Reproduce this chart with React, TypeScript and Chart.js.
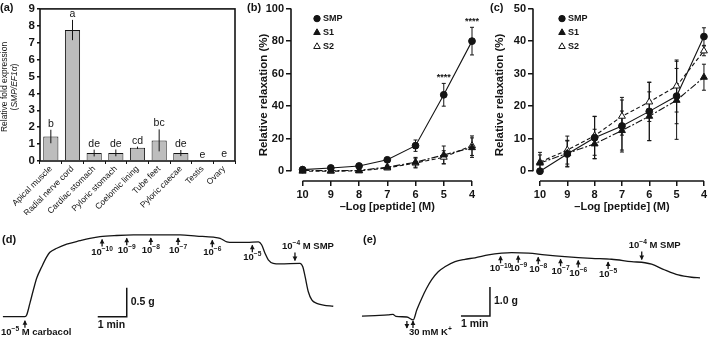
import React, { useEffect, useRef } from 'react';
import { Chart, registerables } from 'chart.js';

Chart.register(...registerables);

const FONT = '"Liberation Sans", Arial, Helvetica, sans-serif';
const INK = '#141414';
Chart.defaults.font.family = FONT;
Chart.defaults.color = INK;

/* ---------------- (a) relative SMP expression ---------------- */
const TISSUES = ['Apical muscle', 'Radial nerve cord', 'Cardiac stomach', 'Pyloric stomach', 'Coelomic lining', 'Tube feet', 'Pyloric caecae', 'Testis', 'Ovary'];
const FOLD_EXPRESSION = [1.45, 7.75, 0.47, 0.48, 0.78, 1.22, 0.47, 0.02, 0.03];
const FOLD_SEM = [0.4, 0.6, 0.2, 0.2, 0.07, 0.65, 0.18, 0, 0];
const FOLD_LETTERS = ['b', 'a', 'de', 'de', 'cd', 'bc', 'de', 'e', 'e'];
const FOLD_TICKS = [0, 1, 2, 3, 4, 5, 6, 7, 8, 9];

/* ---------------- (b), (c) concentration-response ---------------- */
const NEG_LOG_CONC = [10, 9, 8, 7, 6, 5, 4];
const SERIES_NAMES = ['SMP', 'S1', 'S2'];

const B_SMP = [1, 2, 3.2, 7, 15.7, 47, 80];
const B_SMP_ERR = [0.6, 0.8, 1, 1.5, 3.5, 7, 8.5];
const B_S1 = [0.5, 0.3, 0.5, 2.5, 5.5, 10, 14.5];
const B_S1_ERR = [0.5, 0.4, 0.5, 1.2, 3, 5.5, 6];
const B_S2 = [0, 0, 0.2, 2, 5, 8.6, 15.7];
const B_S2_ERR = [0.4, 0.3, 0.4, 1, 3, 4, 6];
const B_SIG = ['', '', '', '', '', '****', '****'];
const B_TICKS = [0, 20, 40, 60, 80, 100];

const C_SMP = [0, 5.3, 10.3, 13.9, 18.4, 23.1, 41.4];
const C_SMP_ERR = [0.5, 4, 6.5, 8, 9, 8.5, 2.7];
const C_S1 = [2.5, 5.5, 8.4, 12.5, 16.9, 21.8, 28.9];
const C_S1_ERR = [2.5, 4, 4.5, 6, 7.5, 12, 4];
const C_S2 = [2.8, 6.5, 10.9, 16.9, 21.3, 26.2, 37];
const C_S2_ERR = [3, 4.3, 6, 5.8, 6, 8, 1.5];
const C_SIG = ['', '', '', '', '', '', ''];
const C_TICKS = [0, 10, 20, 30, 40, 50];

/* ---------------- (d), (e) tension traces (time in min, tension in g) ---------------- */
const D_TIME = [0.10, 0.86, 0.92, 1.03, 1.15, 1.27, 1.44, 1.61, 1.72, 1.96, 2.30, 2.76, 3.10, 3.45, 4.02, 4.60, 5.17, 6.21, 6.78, 7.36, 7.59, 7.82, 8.04, 8.51, 8.91, 9.02, 9.14, 9.25, 9.42, 9.66, 10.34, 10.44, 10.52, 10.63, 10.75, 10.92, 11.15, 11.49];
const D_TENSION = [0.35, 0.35, 0.38, 0.58, 0.81, 1.02, 1.21, 1.38, 1.46, 1.53, 1.60, 1.66, 1.70, 1.73, 1.75, 1.76, 1.76, 1.76, 1.74, 1.72, 1.70, 1.64, 1.63, 1.63, 1.64, 1.59, 1.44, 1.33, 1.27, 1.26, 1.27, 1.21, 1.04, 0.78, 0.64, 0.58, 0.55, 0.53];
const D_DOSE_TIMES = [3.52, 4.37, 5.20, 6.14, 7.32, 8.70];
const D_DOSE_EXPONENTS = ['−10', '−9', '−8', '−7', '−6', '−5'];
const D_SMP_TIME = 10.17;
const D_STIM_TIMES = [0.86];

const E_TIME = [0.24, 0.69, 1.14, 1.31, 1.41, 1.79, 2.01, 2.13, 2.30, 2.47, 2.64, 2.87, 3.10, 3.45, 3.79, 4.14, 4.60, 5.06, 5.40, 5.98, 6.55, 7.24, 8.16, 8.85, 9.54, 10.00, 10.23, 10.69, 11.15, 11.61, 11.90];
const E_TENSION = [0.72, 0.74, 0.76, 0.78, 0.71, 0.69, 0.59, 0.93, 1.33, 1.68, 1.97, 2.25, 2.42, 2.60, 2.68, 2.73, 2.83, 2.89, 2.91, 2.89, 2.83, 2.77, 2.71, 2.68, 2.60, 2.56, 2.51, 2.31, 2.14, 2.06, 2.04];
const E_DOSE_TIMES = [5.02, 5.63, 6.32, 7.09, 7.70, 8.73];
const E_DOSE_EXPONENTS = ['−10', '−9', '−8', '−7', '−6', '−5'];
const E_SMP_TIME = 9.89;
const E_STIM_TIMES = [1.79, 2.0];

/* ---------------- helpers ---------------- */
type Seg = { t: string; sup?: boolean; italic?: boolean };

function fontStr(size: number, weight = 'bold', italic = false) {
  return `${italic ? 'italic ' : ''}${weight} ${size}px ${FONT}`;
}

function drawSegs(ctx: CanvasRenderingContext2D, segs: Seg[], x: number, y: number, size: number, weight: string, align: 'left' | 'center') {
  const supSize = size * 0.7;
  const widths = segs.map((s) => {
    ctx.font = fontStr(s.sup ? supSize : size, weight, !!s.italic);
    return ctx.measureText(s.t).width;
  });
  const total = widths.reduce((a, b) => a + b, 0);
  let cx = align === 'center' ? x - total / 2 : x;
  ctx.textAlign = 'left';
  ctx.textBaseline = 'middle';
  segs.forEach((s, i) => {
    ctx.font = fontStr(s.sup ? supSize : size, weight, !!s.italic);
    ctx.fillText(s.t, cx, s.sup ? y - size * 0.33 : y);
    cx += widths[i];
  });
}

function drawArrow(ctx: CanvasRenderingContext2D, x: number, yTail: number, yTip: number) {
  ctx.lineWidth = 1.3;
  ctx.beginPath();
  ctx.moveTo(x, yTail);
  ctx.lineTo(x, yTip);
  ctx.stroke();
  const dir = yTip < yTail ? 1 : -1;
  ctx.beginPath();
  ctx.moveTo(x, yTip - dir * 0.5);
  ctx.lineTo(x - 2.4, yTip + dir * 4);
  ctx.lineTo(x + 2.4, yTip + dir * 4);
  ctx.closePath();
  ctx.fill();
}

function drawMarker(ctx: CanvasRenderingContext2D, kind: number, x: number, y: number) {
  ctx.beginPath();
  if (kind === 0) {
    ctx.arc(x, y, 3.2, 0, Math.PI * 2);
  } else {
    const r = 3.8;
    for (let k = 0; k < 3; k++) {
      const a = (k * 2 * Math.PI) / 3;
      const px = x + Math.sin(a) * r;
      const py = y - Math.cos(a) * r;
      if (k === 0) ctx.moveTo(px, py);
      else ctx.lineTo(px, py);
    }
  }
  ctx.closePath();
  ctx.fillStyle = kind === 2 ? '#ffffff' : INK;
  ctx.fill();
  ctx.lineWidth = 1;
  ctx.strokeStyle = INK;
  ctx.stroke();
  ctx.fillStyle = INK;
}

function interp(ts: number[], vs: number[], t: number) {
  for (let i = 0; i < ts.length - 1; i++) {
    if (t >= ts[i] && t <= ts[i + 1]) {
      const f = (t - ts[i]) / (ts[i + 1] - ts[i]);
      return vs[i] + f * (vs[i + 1] - vs[i]);
    }
  }
  return t < ts[0] ? vs[0] : vs[vs.length - 1];
}

const pts = (xs: number[], ys: number[]) => xs.map((x, i) => ({ x, y: ys[i] }));

/* ---------------- (a) config ---------------- */
function panelAConfig(): any {
  const plugin = {
    id: 'panelA',
    afterDatasetsDraw(chart: any) {
      const { ctx, chartArea: ca } = chart;
      const ys = chart.scales.y;
      const meta = chart.getDatasetMeta(0);
      ctx.save();
      ctx.strokeStyle = INK;
      ctx.fillStyle = INK;
      ctx.lineWidth = 1;
      meta.data.forEach((bar: any, i: number) => {
        const v = FOLD_EXPRESSION[i];
        const e = FOLD_SEM[i];
        const top = ys.getPixelForValue(v + e);
        if (e > 0) {
          ctx.beginPath();
          ctx.moveTo(bar.x, top);
          ctx.lineTo(bar.x, ys.getPixelForValue(v - e));
          ctx.stroke();
        }
        ctx.font = fontStr(10.5, 'normal');
        ctx.textAlign = 'center';
        ctx.textBaseline = 'alphabetic';
        ctx.fillText(FOLD_LETTERS[i], bar.x, top - 3);
      });
      ctx.lineWidth = 1.6;
      ctx.strokeRect(ca.left, ca.top, ca.right - ca.left, ca.bottom - ca.top);
      // y title
      ctx.save();
      ctx.translate(5, 87);
      ctx.rotate(-Math.PI / 2);
      drawSegs(ctx, [{ t: 'Relative fold expression' }], 0, 0, 8.5, 'normal', 'center');
      ctx.restore();
      ctx.save();
      ctx.translate(15, 87);
      ctx.rotate(-Math.PI / 2);
      drawSegs(ctx, [{ t: '(' }, { t: 'SMP/EF1α', italic: true }, { t: ')' }], 0, 0, 8.5, 'normal', 'center');
      ctx.restore();
      ctx.font = fontStr(11);
      ctx.textAlign = 'left';
      ctx.textBaseline = 'middle';
      ctx.fillText('(a)', 0, 8);
      ctx.restore();
    },
  };
  return {
    type: 'bar',
    data: {
      labels: TISSUES,
      datasets: [
        {
          data: FOLD_EXPRESSION,
          backgroundColor: '#bdbdbd',
          borderColor: INK,
          borderWidth: 1,
          barPercentage: 0.7,
          categoryPercentage: 1,
        },
      ],
    },
    options: {
      animation: false,
      responsive: false,
      events: [],
      layout: { padding: { top: 5, right: 5, left: 0, bottom: 0 }, autoPadding: false },
      plugins: { legend: { display: false }, tooltip: { enabled: false } },
      scales: {
        x: {
          grid: { display: true, drawOnChartArea: false, tickLength: 3, color: INK, lineWidth: 1 },
          border: { display: false },
          ticks: { autoSkip: false, minRotation: 45, maxRotation: 45, font: { size: 8.5, family: FONT }, color: INK, padding: 0 },
          afterFit: (s: any) => {
            s.height = 54;
          },
        },
        y: {
          min: 0,
          max: 9,
          afterBuildTicks: (s: any) => {
            s.ticks = FOLD_TICKS.map((v) => ({ value: v }));
          },
          grid: { display: true, drawOnChartArea: false, tickLength: 3, color: INK, lineWidth: 1.5 },
          border: { display: false },
          ticks: { font: { size: 11.5, weight: 'bold', family: FONT }, color: INK, padding: 2 },
          afterFit: (s: any) => {
            s.width = 40;
          },
        },
      },
    },
    plugins: [plugin],
  };
}

/* ---------------- (b)/(c) config ---------------- */
type DoseSpec = {
  panel: string;
  panelX: number;
  values: number[][];
  errors: number[][];
  sig: string[];
  ticks: number[];
  yMin: number;
  yMax: number;
  xMax: number;
  axisWidth: number;
  padRight: number;
  yTitleGap: number;
  legendDx: number;
};

function doseConfig(spec: DoseSpec): any {
  const plugin = {
    id: 'dose',
    beforeDatasetsDraw(chart: any) {
      const { ctx } = chart;
      const ys = chart.scales.y;
      ctx.save();
      ctx.strokeStyle = INK;
      ctx.lineWidth = 1;
      spec.values.forEach((vals, di) => {
        const meta = chart.getDatasetMeta(di);
        meta.data.forEach((p: any, i: number) => {
          const e = spec.errors[di][i];
          const t = ys.getPixelForValue(vals[i] + e);
          const b = ys.getPixelForValue(vals[i] - e);
          ctx.beginPath();
          ctx.moveTo(p.x, t);
          ctx.lineTo(p.x, b);
          ctx.moveTo(p.x - 2, t);
          ctx.lineTo(p.x + 2, t);
          ctx.moveTo(p.x - 2, b);
          ctx.lineTo(p.x + 2, b);
          ctx.stroke();
        });
      });
      ctx.restore();
    },
    afterDraw(chart: any) {
      const { ctx, chartArea: ca } = chart;
      const xs = chart.scales.x;
      const ys = chart.scales.y;
      ctx.save();
      ctx.strokeStyle = INK;
      ctx.fillStyle = INK;
      ctx.lineWidth = 1.6;
      // detached axes
      const x10 = xs.getPixelForValue(NEG_LOG_CONC[0]);
      const x4 = xs.getPixelForValue(NEG_LOG_CONC[NEG_LOG_CONC.length - 1]);
      ctx.beginPath();
      ctx.moveTo(x10, ca.bottom);
      ctx.lineTo(x4, ca.bottom);
      ctx.moveTo(ca.left, ys.getPixelForValue(spec.ticks[0]));
      ctx.lineTo(ca.left, ys.getPixelForValue(spec.ticks[spec.ticks.length - 1]));
      ctx.stroke();
      // axis titles
      ctx.font = fontStr(11);
      ctx.textAlign = 'center';
      ctx.textBaseline = 'middle';
      ctx.fillText('–Log [peptide] (M)', (x10 + x4) / 2, 207);
      ctx.save();
      ctx.translate(ca.left - spec.yTitleGap, 95);
      ctx.rotate(-Math.PI / 2);
      ctx.font = fontStr(11.5);
      ctx.fillText('Relative relaxation (%)', 0, 0);
      ctx.restore();
      // significance
      const smpMeta = chart.getDatasetMeta(0);
      ctx.font = fontStr(9);
      ctx.textBaseline = 'alphabetic';
      spec.sig.forEach((s, i) => {
        if (!s) return;
        const top = ys.getPixelForValue(spec.values[0][i] + spec.errors[0][i]);
        ctx.fillText(s, smpMeta.data[i].x, top - 3);
      });
      // legend
      SERIES_NAMES.forEach((name, k) => {
        const mx = ca.left + spec.legendDx;
        const my = ca.top + 10 + k * 14;
        drawMarker(ctx, k, mx, my);
        ctx.font = fontStr(9);
        ctx.textAlign = 'left';
        ctx.textBaseline = 'middle';
        ctx.fillText(name, mx + 6, my);
      });
      // panel label
      ctx.font = fontStr(11);
      ctx.textAlign = 'left';
      ctx.fillText(spec.panel, spec.panelX, 8);
      ctx.restore();
    },
  };
  const common = { borderColor: INK, borderWidth: 1.1, showLine: true, pointBorderColor: INK, pointBorderWidth: 1 };
  return {
    type: 'scatter',
    data: {
      datasets: [
        { ...common, label: 'SMP', data: pts(NEG_LOG_CONC, spec.values[0]), pointStyle: 'circle', pointRadius: 3.4, pointBackgroundColor: INK },
        { ...common, label: 'S1', data: pts(NEG_LOG_CONC, spec.values[1]), borderDash: [7, 2, 2, 2], pointStyle: 'triangle', pointRadius: 4, pointBackgroundColor: INK },
        { ...common, label: 'S2', data: pts(NEG_LOG_CONC, spec.values[2]), borderDash: [4, 2.5], pointStyle: 'triangle', pointRadius: 4, pointBackgroundColor: '#ffffff' },
      ],
    },
    options: {
      animation: false,
      responsive: false,
      events: [],
      clip: false,
      layout: { padding: { top: 5, right: spec.padRight, left: 0, bottom: 0 }, autoPadding: false },
      plugins: { legend: { display: false }, tooltip: { enabled: false } },
      scales: {
        x: {
          type: 'linear',
          reverse: true,
          min: 4,
          max: spec.xMax,
          afterBuildTicks: (s: any) => {
            s.ticks = NEG_LOG_CONC.map((v) => ({ value: v }));
          },
          grid: { display: true, drawOnChartArea: false, tickLength: 5, color: INK, lineWidth: 1.5 },
          border: { display: false },
          ticks: { font: { size: 11, weight: 'bold', family: FONT }, color: INK, padding: 2 },
          afterFit: (s: any) => {
            s.height = 34;
          },
        },
        y: {
          min: spec.yMin,
          max: spec.yMax,
          afterBuildTicks: (s: any) => {
            s.ticks = spec.ticks.map((v) => ({ value: v }));
          },
          grid: { display: true, drawOnChartArea: false, tickLength: 5, color: INK, lineWidth: 1.5 },
          border: { display: false },
          ticks: { font: { size: 11, weight: 'bold', family: FONT }, color: INK, padding: 2 },
          afterFit: (s: any) => {
            s.width = spec.axisWidth;
          },
        },
      },
    },
    plugins: [plugin],
  };
}

/* ---------------- (d)/(e) config ---------------- */
type TraceSpec = {
  panel: string;
  panelX: number;
  time: number[];
  tension: number[];
  tRange: number[];
  gRange: number[];
  doseTimes: number[];
  doseExps: string[];
  smpTime: number;
  stimTimes: number[];
  stimDirs: string[];
  stimText: Seg[];
  stimTextDx: number;
  barCorner: number[];
  barG: number;
  barGLabel: string;
};

function traceConfig(spec: TraceSpec): any {
  const plugin = {
    id: 'trace',
    afterDatasetsDraw(chart: any) {
      const { ctx } = chart;
      const xs = chart.scales.x;
      const ys = chart.scales.y;
      const traceY = (t: number) => ys.getPixelForValue(interp(spec.time, spec.tension, t));
      ctx.save();
      ctx.strokeStyle = INK;
      ctx.fillStyle = INK;
      // cumulative doses
      spec.doseTimes.forEach((t, i) => {
        const x = xs.getPixelForValue(t);
        const tip = traceY(t) + 3;
        drawArrow(ctx, x, tip + 7, tip);
        drawSegs(ctx, [{ t: '10' }, { t: spec.doseExps[i], sup: true }], x, tip + 12.5, 9.5, 'bold', 'center');
      });
      // 10^-4 M SMP
      {
        const x = xs.getPixelForValue(spec.smpTime);
        const tip = traceY(spec.smpTime) - 3;
        drawArrow(ctx, x, tip - 8, tip);
        drawSegs(ctx, [{ t: '10' }, { t: '−4', sup: true }, { t: ' M SMP' }], x - 13, tip - 14.5, 9.5, 'bold', 'left');
      }
      // stimulus
      {
        const base = traceY(spec.stimTimes[0]);
        spec.stimTimes.forEach((t, i) => {
          const x = xs.getPixelForValue(t);
          if (spec.stimDirs[i] === 'up') drawArrow(ctx, x, base + 11, base + 4);
          else drawArrow(ctx, x, base + 4, base + 11);
        });
        const x0 = xs.getPixelForValue(spec.stimTimes[0]);
        drawSegs(ctx, spec.stimText, x0 + spec.stimTextDx, base + 15.5, 9.5, 'bold', 'left');
      }
      // scale bar
      {
        const [t, g] = spec.barCorner;
        const cx = xs.getPixelForValue(t);
        const cy = ys.getPixelForValue(g);
        const lx = xs.getPixelForValue(t - 1);
        const ty = ys.getPixelForValue(g + spec.barG);
        ctx.lineWidth = 1.5;
        ctx.beginPath();
        ctx.moveTo(lx, cy);
        ctx.lineTo(cx, cy);
        ctx.lineTo(cx, ty);
        ctx.stroke();
        drawSegs(ctx, [{ t: spec.barGLabel }], cx + 4, (cy + ty) / 2, 10.5, 'bold', 'left');
        drawSegs(ctx, [{ t: '1 min' }], lx, cy + 8.5, 10.5, 'bold', 'left');
      }
      drawSegs(ctx, [{ t: spec.panel }], spec.panelX, 20, 11, 'bold', 'left');
      ctx.restore();
    },
  };
  return {
    type: 'scatter',
    data: {
      datasets: [
        {
          data: pts(spec.time, spec.tension),
          showLine: true,
          pointRadius: 0,
          borderColor: INK,
          borderWidth: 1.3,
          cubicInterpolationMode: 'monotone',
        },
      ],
    },
    options: {
      animation: false,
      responsive: false,
      events: [],
      layout: { padding: 0, autoPadding: false },
      plugins: { legend: { display: false }, tooltip: { enabled: false } },
      scales: {
        x: { type: 'linear', display: false, min: spec.tRange[0], max: spec.tRange[1] },
        y: { type: 'linear', display: false, min: spec.gRange[0], max: spec.gRange[1] },
      },
    },
    plugins: [plugin],
  };
}

/* ---------------- components ---------------- */
function ChartBox(props: { left: number; top: number; width: number; height: number; build: () => any }) {
  const ref = useRef<HTMLCanvasElement | null>(null);
  useEffect(() => {
    const chart = new Chart(ref.current as HTMLCanvasElement, props.build());
    return () => chart.destroy();
  }, []);
  return (
    <canvas
      ref={ref}
      width={props.width}
      height={props.height}
      style={{ position: 'absolute', left: props.left, top: props.top, width: props.width, height: props.height }}
    />
  );
}

export default function App() {
  return (
    <div style={{ position: 'fixed', left: 0, top: 0, width: 709, height: 337, background: '#ffffff', overflow: 'hidden' }}>
      <ChartBox left={0} top={0} width={240} height={215} build={panelAConfig} />
      <ChartBox
        left={232}
        top={0}
        width={250}
        height={215}
        build={() =>
          doseConfig({
            panel: '(b)',
            panelX: 15,
            values: [B_SMP, B_S1, B_S2],
            errors: [B_SMP_ERR, B_S1_ERR, B_S2_ERR],
            sig: B_SIG,
            ticks: B_TICKS,
            yMin: -6.02,
            yMax: 100,
            xMax: 10.41,
            axisWidth: 59,
            padRight: 10,
            yTitleGap: 27,
            legendDx: 26,
          })
        }
      />
      <ChartBox
        left={470}
        top={0}
        width={239}
        height={215}
        build={() =>
          doseConfig({
            panel: '(c)',
            panelX: 20,
            values: [C_SMP, C_S1, C_S2],
            errors: [C_SMP_ERR, C_S1_ERR, C_S2_ERR],
            sig: C_SIG,
            ticks: C_TICKS,
            yMin: -3.01,
            yMax: 50,
            xMax: 10.255,
            axisWidth: 63,
            padRight: 4,
            yTitleGap: 33,
            legendDx: 29,
          })
        }
      />
      <ChartBox
        left={0}
        top={220}
        width={355}
        height={117}
        build={() =>
          traceConfig({
            panel: '(d)',
            panelX: 2,
            time: D_TIME,
            tension: D_TENSION,
            tRange: [0, 12.24],
            gRange: [0, 2.017],
            doseTimes: D_DOSE_TIMES,
            doseExps: D_DOSE_EXPONENTS,
            smpTime: D_SMP_TIME,
            stimTimes: D_STIM_TIMES,
            stimDirs: ['up'],
            stimText: [{ t: '10' }, { t: '−5', sup: true }, { t: ' M carbacol' }],
            stimTextDx: -24,
            barCorner: [4.37, 0.35],
            barG: 0.5,
            barGLabel: '0.5 g',
          })
        }
      />
      <ChartBox
        left={355}
        top={220}
        width={354}
        height={117}
        build={() =>
          traceConfig({
            panel: '(e)',
            panelX: 8,
            time: E_TIME,
            tension: E_TENSION,
            tRange: [0, 12.21],
            gRange: [0, 4.034],
            doseTimes: E_DOSE_TIMES,
            doseExps: E_DOSE_EXPONENTS,
            smpTime: E_SMP_TIME,
            stimTimes: E_STIM_TIMES,
            stimDirs: ['down', 'up'],
            stimText: [{ t: '30 mM K' }, { t: '+', sup: true }],
            stimTextDx: 2,
            barCorner: [4.655, 0.724],
            barG: 1.0,
            barGLabel: '1.0 g',
          })
        }
      />
    </div>
  );
}
